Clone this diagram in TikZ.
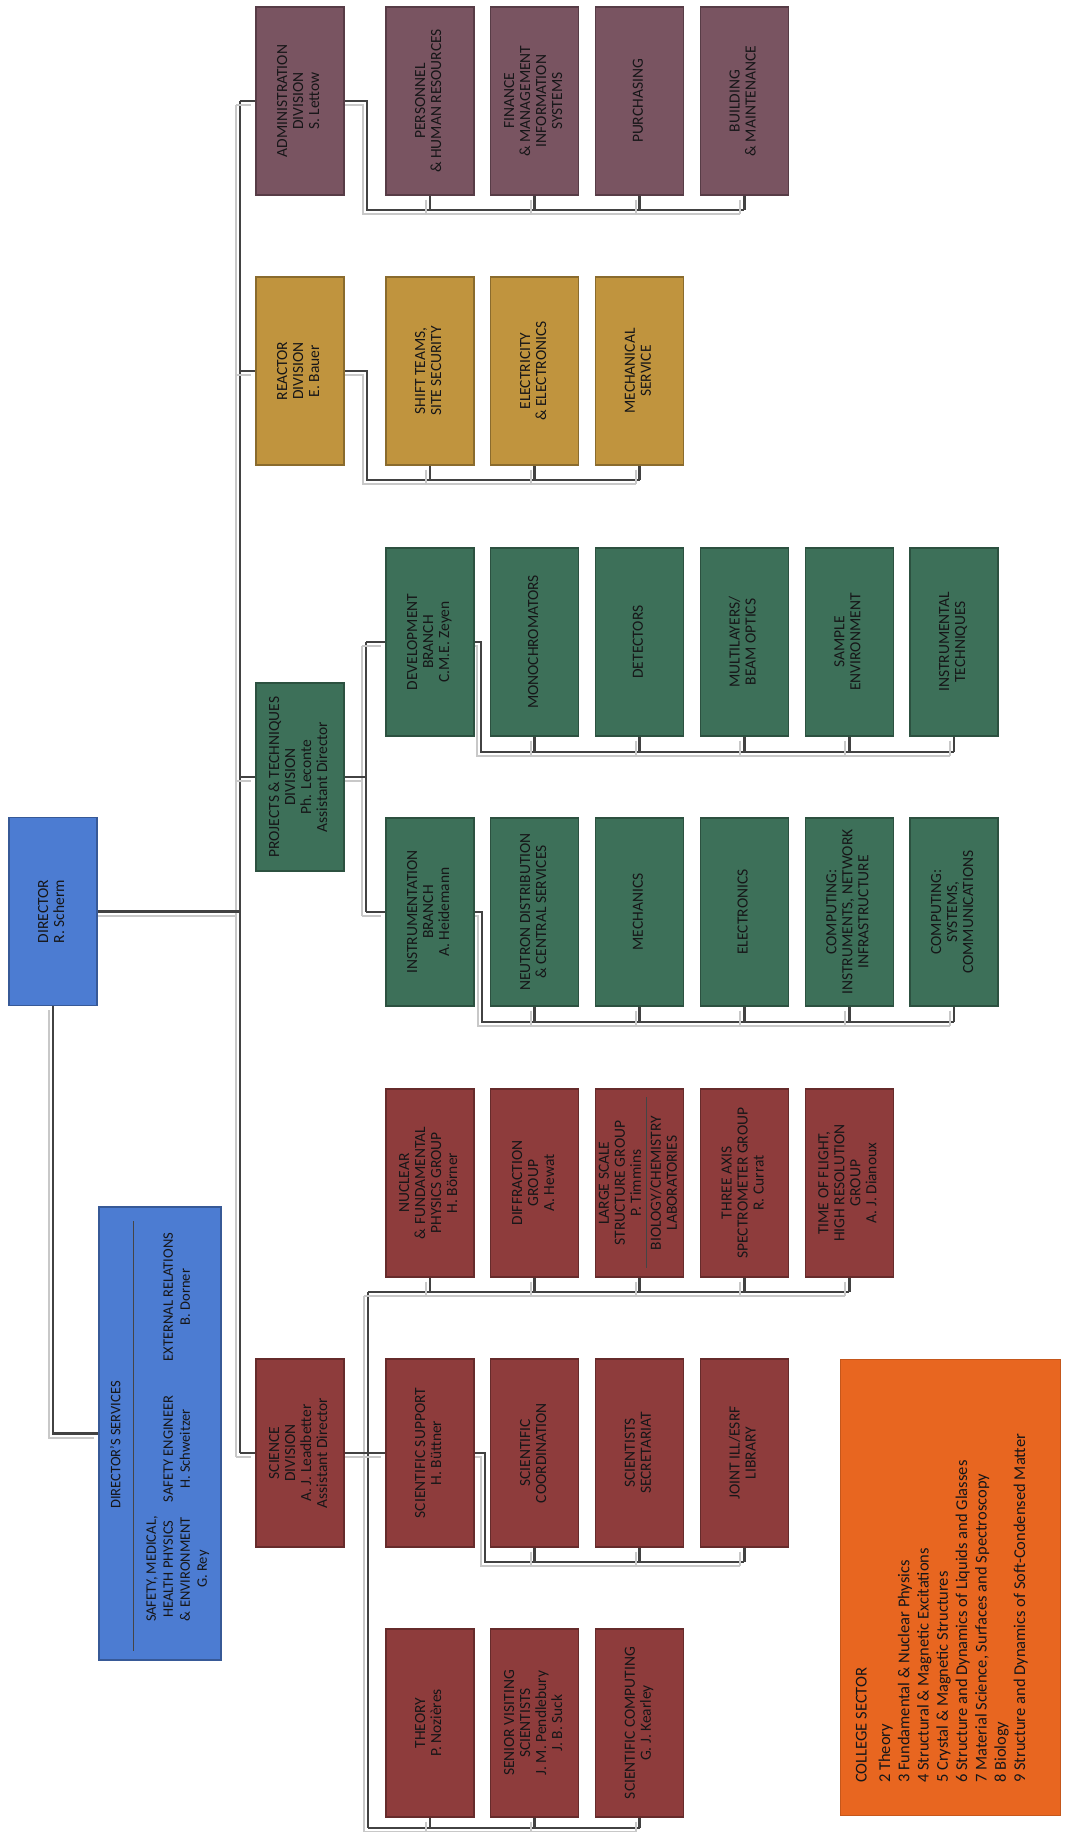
\documentclass[tikz,border=0pt]{standalone}
\usepackage{fontspec}
\setmainfont{Carlito}
\usepackage{graphicx}
\usetikzlibrary{calc}
\definecolor{dirblue}{RGB}{76,124,210}
\definecolor{scired}{RGB}{142,60,60}
\definecolor{prjgreen}{RGB}{61,112,89}
\definecolor{reagold}{RGB}{192,148,62}
\definecolor{admpurple}{RGB}{121,84,97}
\definecolor{colorange}{RGB}{232,102,32}
\definecolor{linegray}{RGB}{66,66,66}
\definecolor{shadowgray}{RGB}{200,200,200}
\definecolor{txt}{RGB}{22,22,24}
\newcommand\rt[1]{\rotatebox{90}{\begin{tabular}{@{}c@{}}#1\end{tabular}}}
\pgfdeclarelayer{bg}
\pgfsetlayers{bg,main}
\begin{document}
\begin{tikzpicture}[x=1pt,y={(0,-1pt)},
  bx/.style={rectangle, inner sep=0pt, minimum width=88pt, minimum height=188pt,
    line width=1.1pt, text=txt, font=\fontsize{15.5}{16}\selectfont},
  blu/.style={bx, fill=dirblue, draw=dirblue!72!black},
  red/.style={bx, fill=scired, draw=scired!72!black},
  grn/.style={bx, fill=prjgreen, draw=prjgreen!72!black},
  rea/.style={bx, fill=reagold, draw=reagold!72!black},
  adm/.style={bx, fill=admpurple, draw=admpurple!72!black},
  org/.style={rectangle, inner sep=0pt, fill=colorange, draw=colorange!85!black, line width=0.8pt},
  svtext/.style={inner sep=0pt, text=txt, font=\fontsize{14.5}{17}\selectfont},
  coltext/.style={inner sep=0pt, text=txt, font=\fontsize{16.5}{19.3}\selectfont},
  conn/.style={draw=linegray, line width=2.8pt,
    preaction={draw=shadowgray, line width=2pt, transform canvas={shift={(-4,4)}}}},
  divider/.style={draw=txt!80, line width=0.9pt}
]
\useasboundingbox (0,0) rectangle (1067,1832);

% ---------- Director and services
\node[blu] (dir) at (53,911.5) {\rt{DIRECTOR\\R. Scherm}};
\node[blu, minimum width=122pt, minimum height=453pt] (svc) at (160,1433.5) {};
\node[svtext] (svh) at (117,1445) {\rt{DIRECTOR'S SERVICES}};
\node[svtext] (sv1) at (178,1569) {\rt{SAFETY, MEDICAL,\\HEALTH PHYSICS\\\& ENVIRONMENT\\G. Rey}};
\node[svtext] (sv2) at (178,1449) {\rt{SAFETY ENGINEER\\H. Schweitzer}};
\node[svtext] (sv3) at (178,1297) {\rt{EXTERNAL RELATIONS\\B. Dorner}};
\draw[divider] ([xshift=35pt,yshift=-15pt]svc.north west) -- ([xshift=35pt,yshift=10pt]svc.south west);

% ---------- Administration
\node[adm] (adm) at (300,101) {\rt{ADMINISTRATION\\DIVISION\\S. Lettow}};
\node[adm] (a1) at (430,101) {\rt{PERSONNEL\\\& HUMAN RESOURCES}};
\node[adm] (a2) at (534.8,101) {\rt{FINANCE\\\& MANAGEMENT\\INFORMATION\\SYSTEMS}};
\node[adm] (a3) at (639.6,101) {\rt{PURCHASING}};
\node[adm] (a4) at (744.4,101) {\rt{BUILDING\\\& MAINTENANCE}};

% ---------- Reactor
\node[rea] (rea) at (300,371) {\rt{REACTOR\\DIVISION\\E. Bauer}};
\node[rea] (r1) at (430,371) {\rt{SHIFT TEAMS,\\SITE SECURITY}};
\node[rea] (r2) at (534.8,371) {\rt{ELECTRICITY\\\& ELECTRONICS}};
\node[rea] (r3) at (639.6,371) {\rt{MECHANICAL\\SERVICE}};

% ---------- Projects & techniques
\node[grn] (prj) at (300,777) {\rt{PROJECTS \& TECHNIQUES\\DIVISION\\Ph. Leconte\\Assistant Director}};
\node[grn] (dev) at (430,642) {\rt{DEVELOPMENT\\BRANCH\\C.M.E. Zeyen}};
\node[grn] (d1) at (534.8,642) {\rt{MONOCHROMATORS}};
\node[grn] (d2) at (639.6,642) {\rt{DETECTORS}};
\node[grn] (d3) at (744.4,642) {\rt{MULTILAYERS/\\BEAM OPTICS}};
\node[grn] (d4) at (849.2,642) {\rt{SAMPLE\\ENVIRONMENT}};
\node[grn] (d5) at (954,642) {\rt{INSTRUMENTAL\\TECHNIQUES}};
\node[grn] (ins) at (430,912) {\rt{INSTRUMENTATION\\BRANCH\\A. Heidemann}};
\node[grn] (i1) at (534.8,912) {\rt{NEUTRON DISTRIBUTION\\\& CENTRAL SERVICES}};
\node[grn] (i2) at (639.6,912) {\rt{MECHANICS}};
\node[grn] (i3) at (744.4,912) {\rt{ELECTRONICS}};
\node[grn] (i4) at (849.2,912) {\rt{COMPUTING:\\INSTRUMENTS, NETWORK\\INFRASTRUCTURE}};
\node[grn] (i5) at (954,912) {\rt{COMPUTING:\\SYSTEMS,\\COMMUNICATIONS}};

% ---------- Science
\node[red] (sci) at (300,1453) {\rt{SCIENCE\\DIVISION\\A. J. Leadbetter\\Assistant Director}};
\node[red] (g0) at (430,1183) {\rt{NUCLEAR\\\& FUNDAMENTAL\\PHYSICS GROUP\\H. Börner}};
\node[red] (g1) at (534.8,1183) {\rt{DIFFRACTION\\GROUP\\A. Hewat}};
\node[red] (g2) at (639.6,1183) {\rt{LARGE SCALE\\STRUCTURE GROUP\\P. Timmins\\[4pt]BIOLOGY/CHEMISTRY\\LABORATORIES}};
\node[red] (g3) at (744.4,1183) {\rt{THREE AXIS\\SPECTROMETER GROUP\\R. Currat}};
\node[red] (g4) at (849.2,1183) {\rt{TIME OF FLIGHT,\\HIGH RESOLUTION\\GROUP\\A. J. Dianoux}};
\draw[divider] ([xshift=6.5pt,yshift=-9pt]g2.north) -- ([xshift=6.5pt,yshift=10pt]g2.south);
\node[red] (sup) at (430,1453) {\rt{SCIENTIFIC SUPPORT\\H. Büttner}};
\node[red] (s1) at (534.8,1453) {\rt{SCIENTIFIC\\COORDINATION}};
\node[red] (s2) at (639.6,1453) {\rt{SCIENTISTS\\SECRETARIAT}};
\node[red] (s3) at (744.4,1453) {\rt{JOINT ILL/ESRF\\LIBRARY}};
\node[red] (t0) at (430,1723) {\rt{THEORY\\P. Nozières}};
\node[red] (t1) at (534.8,1723) {\rt{SENIOR VISITING\\SCIENTISTS\\J. M. Pendlebury\\J. B. Suck}};
\node[red] (t2) at (639.6,1723) {\rt{SCIENTIFIC COMPUTING\\G. J. Kearley}};

% ---------- College sector
\node[org, minimum width=220pt, minimum height=456pt] (col) at (950,1587) {};
\node[coltext, anchor=south west] (colt) at (853,1783) {\rotatebox{90}{\begin{tabular}{@{}l@{}}COLLEGE SECTOR\\[4pt]
2 Theory\\
3 Fundamental \& Nuclear Physics\\
4 Structural \& Magnetic Excitations\\
5 Crystal \& Magnetic Structures\\
6 Structure and Dynamics of Liquids and Glasses\\
7 Material Science, Surfaces and Spectroscopy\\
8 Biology\\
9 Structure and Dynamics of Soft-Condensed Matter\end{tabular}}};

% ---------- connector helper coordinates
\coordinate (tk) at (240,0);
\coordinate (pv) at (366,0);
\coordinate (abus) at (367,210);
\coordinate (rbus) at (367,480);
\coordinate (dbus) at (481,752);
\coordinate (ibus) at (482,1022);
\coordinate (gbus) at (368,1292);
\coordinate (tbus) at (368,1828);
\coordinate (sbus) at (485,1562);

\begin{pgfonlayer}{bg}
  \fill[white] (0,0) rectangle (1067,1832);
  % trunk
  \draw[conn] (adm.west -| tk) -- (sci.west -| tk);
  \draw[conn] (dir.east) -- (dir.east -| tk);
  \foreach \d in {adm,rea,prj,sci} \draw[conn] (\d.west -| tk) -- (\d.west);
  \draw[conn] (dir.south) |- (svc.west);
  % administration
  \draw[conn] (adm.east) -| (abus) -- (abus -| a4.south);
  \foreach \n in {a1,a2,a3,a4} \draw[conn] (\n.south) -- (\n.south |- abus);
  % reactor
  \draw[conn] (rea.east) -| (rbus) -- (rbus -| r3.south);
  \foreach \n in {r1,r2,r3} \draw[conn] (\n.south) -- (\n.south |- rbus);
  % projects
  \draw[conn] (dev.west -| pv) -- (ins.west -| pv);
  \draw[conn] (prj.east) -- (prj.east -| pv);
  \draw[conn] (dev.west -| pv) -- (dev.west);
  \draw[conn] (ins.west -| pv) -- (ins.west);
  \draw[conn] (dev.east) -| (dbus) -- (dbus -| d5.south);
  \foreach \n in {d1,d2,d3,d4,d5} \draw[conn] (\n.south) -- (\n.south |- dbus);
  \draw[conn] (ins.east) -| (ibus) -- (ibus -| i5.south);
  \foreach \n in {i1,i2,i3,i4,i5} \draw[conn] (\n.south) -- (\n.south |- ibus);
  % science
  \draw[conn] (gbus) -- (tbus);
  \draw[conn] (gbus) -- (gbus -| g4.south);
  \foreach \n in {g0,g1,g2,g3,g4} \draw[conn] (\n.south) -- (\n.south |- gbus);
  \draw[conn] (sci.east) -- (sup.west);
  \draw[conn] (sup.east) -| (sbus) -- (sbus -| s3.south);
  \foreach \n in {s1,s2,s3} \draw[conn] (\n.south) -- (\n.south |- sbus);
  \draw[conn] (tbus) -- (tbus -| t2.south);
  \foreach \n in {t0,t1,t2} \draw[conn] (\n.south) -- (\n.south |- tbus);
\end{pgfonlayer}
\end{tikzpicture}
\end{document}
